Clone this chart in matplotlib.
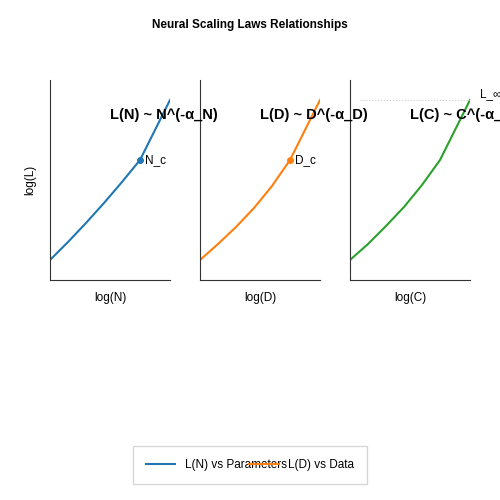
import matplotlib.pyplot as plt

plt.rcParams['font.family'] = ['Liberation Sans', 'DejaVu Sans']

# curve samples (normalised log scale)
log_x = [0.0, 0.15, 0.3, 0.45, 0.6, 0.75, 0.85, 1.0]
curve_n = [0.1, 0.19, 0.285, 0.385, 0.49, 0.6, 0.72, 0.9]
curve_d = [0.1, 0.18, 0.265, 0.36, 0.47, 0.6, 0.72, 0.9]
curve_c = [0.1, 0.18, 0.27, 0.365, 0.475, 0.6, 0.72, 0.9]
knee_x = 0.75
knee_y = 0.6
l_inf = 0.9

titles = ["L(N) ~ N^(-α_N)", "L(D) ~ D^(-α_D)", "L(C) ~ C^(-α_C)"]
xlabels = ["log(N)", "log(D)", "log(C)"]
labels = ["L(N) vs Parameters", "L(D) vs Data", "L(C) vs Compute"]
colors = ["#1f77b4", "#ff7f0e", "#2ca02c"]
curves = [curve_n, curve_d, curve_c]
knee_names = ["N_c", "D_c", None]

fig = plt.figure(figsize=(5, 5), dpi=100)
fig.suptitle("Neural Scaling Laws Relationships", fontsize=8.5, fontweight='bold', y=0.962)

lines = []
axes = []
for i in range(3):
    ax = fig.add_axes([0.1 + i * 0.3, 0.44, 0.24, 0.4])
    ax.patch.set_alpha(0)
    ax.set_zorder(3 - i)
    ln, = ax.plot(log_x, curves[i], color=colors[i], lw=1.5, label=labels[i])
    lines.append(ln)
    if knee_names[i]:
        ax.plot([knee_x], [knee_y], 'o', color=colors[i], ms=4)
        ax.text(knee_x + 0.04, knee_y, knee_names[i], fontsize=8.5, va='center')
    else:
        ax.axhline(l_inf, xmin=0.08, color='#cccccc', ls=':', lw=0.8)
        ax.text(1.08, l_inf, "L_∞", fontsize=8.5, va='bottom', clip_on=False)
    ax.text(0.5, 0.825, titles[i], fontsize=10.5, fontweight='bold',
            transform=ax.transAxes, va='center', clip_on=False, zorder=10)
    ax.set_xlim(0, 1)
    ax.set_ylim(0, 1)
    ax.set_xticks([])
    ax.set_yticks([])
    for s in ['top', 'right']:
        ax.spines[s].set_visible(False)
    ax.spines['left'].set_color('#333333')
    ax.spines['bottom'].set_color('#333333')
    ax.set_xlabel(xlabels[i], fontsize=8.5, labelpad=9)
    if i == 0:
        ax.set_ylabel("log(L)", fontsize=8.5, labelpad=10)

fig.legend(handles=lines[:2], loc='lower center', bbox_to_anchor=(0.5, 0.02),
           ncol=2, fontsize=8.5, columnspacing=-3.2, frameon=True, fancybox=False,
           edgecolor='#cccccc', borderpad=1.1, handlelength=2.5)

fig.savefig("out.png", dpi=100)
